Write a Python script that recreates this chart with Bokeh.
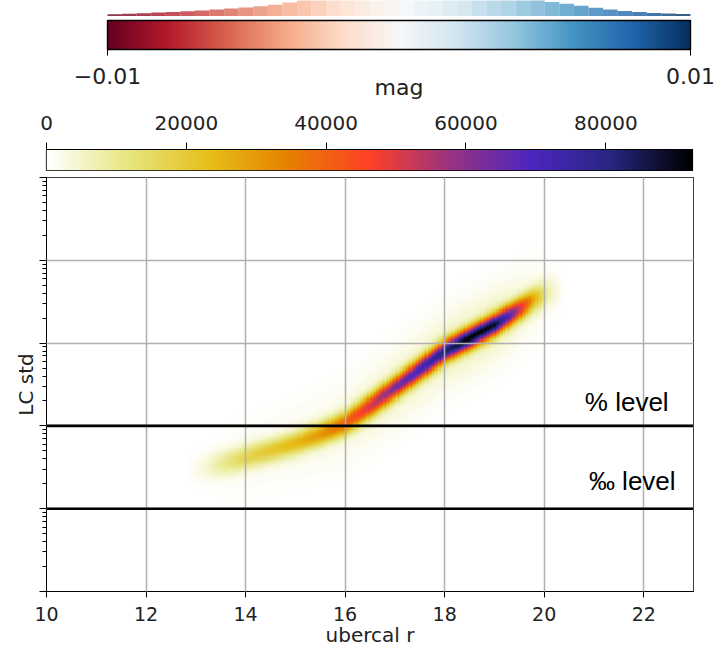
import numpy as np
from bokeh.plotting import figure
from bokeh.layouts import column
from bokeh.core.properties import value
from bokeh.models import (Range1d, LinearColorMapper, FixedTicker, CustomJSTickFormatter,
                          Span, Label, LogTicker)
from bokeh.embed import file_html
from bokeh.resources import INLINE

# ---------------- data ----------------
# residual histogram above the top colour bar (bins of 0.0005 mag from -0.01 to 0.01)
resid_lo = -0.01
resid_hi = 0.01
resid_bin = 0.0005
resid_hist = [2.3, 2.8, 3.3, 3.9, 4.5, 5.2, 6.0, 6.9, 7.9, 9.0,
              10.3, 11.8, 14.0, 16.5, 19.0, 22.0, 25.0, 29.0, 33.0, 36.0,
              38.0, 37.0, 35.0, 32.0, 29.0, 26.0, 23.0, 20.5, 18.5, 16.4,
              14.6, 12.8, 10.8, 8.8, 6.9, 5.5, 4.4, 3.6, 3.0, 2.6]
resid_ticks = [-0.01, 0.01]
resid_labels = ["\u22120.01", "0.01"]

# counts colour bar
count_max = 92400
count_ticks = [0, 20000, 40000, 60000, 80000]

# ridge of the 2-D histogram (magnitude, log10 LC std, peak counts, width in dex)
ridge_mag = [12.8, 13.2, 13.6, 14.0, 14.5, 15.0, 15.5, 16.0, 16.5, 17.0, 17.5,
             18.0, 18.5, 19.0, 19.5, 19.8, 20.1, 20.4]
ridge_log_std = [-2.53, -2.50, -2.45, -2.38, -2.30, -2.21, -2.10, -1.97, -1.76, -1.54,
                 -1.32, -1.10, -0.94, -0.78, -0.59, -0.47, -0.39, -0.35]
ridge_peak = [0, 4000, 11000, 17000, 21000, 25000, 31000, 40000, 52000, 63000, 72000,
              82000, 92400, 90000, 54000, 27000, 7000, 0]
ridge_sigma = [0.12, 0.11, 0.105, 0.10, 0.095, 0.095, 0.095, 0.095, 0.095, 0.092, 0.09,
               0.088, 0.087, 0.087, 0.09, 0.10, 0.12, 0.14]

x_ticks = [10, 12, 14, 16, 18, 20, 22]
level_pct = 0.01
level_permil = 0.001

# ---------------- palettes ----------------
RDBU = ['#67001f', '#b2182b', '#d6604d', '#f4a582', '#fddbc7', '#f7f7f7',
        '#d1e5f0', '#92c5de', '#4393c3', '#2166ac', '#053061']
CMR_R = ['#ffffff', '#e6e680', '#e6bf1a', '#e68000', '#ff4026', '#993380',
         '#4d26bf', '#262680', '#000000']


def ramp(anchors, n=256):
    pos = np.linspace(0, 1, len(anchors))
    rgb = np.array([[int(c[i:i + 2], 16) for i in (1, 3, 5)] for c in anchors], float)
    t = np.linspace(0, 1, n)
    cols = np.stack([np.interp(t, pos, rgb[:, j]) for j in range(3)], axis=1)
    return ['#%02x%02x%02x' % tuple(int(round(v)) for v in row) for row in cols]


rdbu = ramp(RDBU)
cmr = ramp(CMR_R)

FONT = "DejaVu Sans"
TXT = "#222222"
W = 717
BL, BR = 46, 24

# the residual colour bar occupies page pixels 107..690; its figures span the full width
bar_px0, bar_px1 = 107, 690
upp = (resid_hi - resid_lo) / (bar_px1 - bar_px0)
top_xr = (resid_lo - bar_px0 * upp, resid_hi + (W - bar_px1) * upp)

common = dict(output_backend="svg", toolbar_location=None, frame_align=False)

# ---------------- top histogram ----------------
p0 = figure(width=W, height=16, x_range=Range1d(*top_xr), y_range=Range1d(0, 16),
            x_axis_location=None, y_axis_location=None,
            min_border_left=0, min_border_right=0, min_border_top=0, min_border_bottom=0,
            **common)
p0.grid.visible = False
p0.outline_line_color = None
edges = resid_lo + resid_bin * np.arange(len(resid_hist) + 1)
centers = 0.5 * (edges[:-1] + edges[1:])
idx = np.clip(((centers - resid_lo) / (resid_hi - resid_lo) * 255).round().astype(int), 0, 255)
p0.quad(left=edges[:-1], right=edges[1:], bottom=0, top=resid_hist,
        fill_color=[rdbu[i] for i in idx], fill_alpha=0.8, line_color=None)

# ---------------- RdBu colour bar (y in page pixels, 16..100) ----------------
p1 = figure(width=W, height=84, x_range=Range1d(*top_xr), y_range=Range1d(100, 16),
            x_axis_location=None, y_axis_location=None,
            min_border_left=0, min_border_right=0, min_border_top=0, min_border_bottom=0,
            **common)
p1.grid.visible = False
p1.outline_line_color = None
p1.image(image=[np.linspace(resid_lo, resid_hi, 256)[None, :]], x=resid_lo, y=20,
         dw=resid_hi - resid_lo, dh=29,
         color_mapper=LinearColorMapper(palette=rdbu, low=resid_lo, high=resid_hi))
p1.quad(left=resid_lo, right=resid_hi, top=20, bottom=49, fill_color=None,
        line_color="black", line_width=1.4)
p1.segment(x0=resid_ticks, y0=49, x1=resid_ticks, y1=55, line_color="black", line_width=1)
p1.text(x=resid_ticks, y=75.5, text=resid_labels, text_align="center",
        text_baseline="alphabetic", text_font=value(FONT), text_font_size="22px",
        text_color=TXT)
p1.text(x=[0.5 * (resid_lo + resid_hi)], y=86.5, text=["mag"], text_align="center",
        text_baseline="alphabetic", text_font=value(FONT), text_font_size="22px",
        text_color=TXT)

# ---------------- counts colour bar ----------------
p2 = figure(width=W, height=72, x_range=Range1d(0, count_max), y_range=Range1d(0, 1),
            x_axis_location="above", y_axis_location=None,
            min_border_left=BL, min_border_right=BR + 1, min_border_top=49, min_border_bottom=2,
            **common)
p2.grid.visible = False
p2.image(image=[np.linspace(0, count_max, 256)[None, :]], x=0, y=0, dw=count_max, dh=1,
         color_mapper=LinearColorMapper(palette=cmr, low=0, high=count_max))
p2.outline_line_color = "black"
p2.outline_line_width = 1.2
ax = p2.xaxis[0]
ax.ticker = FixedTicker(ticks=count_ticks)
ax.major_tick_out = 7
ax.major_tick_in = 0
ax.minor_tick_out = 0
ax.axis_line_color = "black"
ax.major_label_text_font = FONT
ax.major_label_text_font_size = "20px"
ax.major_label_text_color = TXT
ax.major_label_standoff = 13

# ---------------- main 2-D histogram ----------------
p3 = figure(width=W, height=480, x_range=Range1d(10, 23), y_range=Range1d(1e-4, 10),
            y_axis_type="log",
            min_border_left=BL, min_border_right=BR, min_border_top=5, min_border_bottom=61,
            **common)

nx, ny = 200, 200
y_lo, y_hi = -4.0, 1.0
xc = 10 + (np.arange(nx) + 0.5) * 13.0 / nx
lyc = y_lo + (np.arange(ny) + 0.5) * (y_hi - y_lo) / ny
cen = np.interp(xc, ridge_mag, ridge_log_std)
peak = np.interp(xc, ridge_mag, ridge_peak, left=0, right=0)
sig = np.interp(xc, ridge_mag, ridge_sigma)
d = (lyc[:, None] - cen[None, :]) / sig[None, :]
H = peak[None, :] * (0.93 * np.exp(-0.5 * d ** 2) + 0.07 * np.exp(-0.5 * (d / 3.5) ** 2))

p3.image(image=[H], x=10, y=10 ** y_lo, dw=13, dh=10 ** y_hi - 10 ** y_lo,
         color_mapper=LinearColorMapper(palette=cmr, low=0, high=count_max))

ylog_ticker = LogTicker(num_minor_ticks=10)
p3.xgrid[0].ticker = FixedTicker(ticks=x_ticks)
p3.ygrid[0].ticker = ylog_ticker
for g in (p3.xgrid[0], p3.ygrid[0]):
    g.grid_line_color = "#b0b0b0"
    g.grid_line_width = 1.5
    g.level = "guide"

p3.outline_line_color = "black"
p3.outline_line_width = 1

xa = p3.xaxis[0]
xa.ticker = FixedTicker(ticks=x_ticks)
xa.major_tick_out = 6
xa.major_tick_in = 0
xa.minor_tick_out = 0
xa.axis_line_color = "black"
xa.major_label_text_font = FONT
xa.major_label_text_font_size = "19px"
xa.major_label_text_color = TXT
xa.major_label_standoff = 9
xa.axis_label = "ubercal r"
xa.axis_label_text_font = FONT
xa.axis_label_text_font_size = "20px"
xa.axis_label_text_font_style = "normal"
xa.axis_label_text_color = TXT
xa.axis_label_standoff = -1

ya = p3.yaxis[0]
ya.ticker = ylog_ticker
ya.formatter = CustomJSTickFormatter(code="return '';")
ya.major_tick_out = 7
ya.major_tick_in = 0
ya.minor_tick_out = 4
ya.minor_tick_in = 0
ya.axis_line_color = "black"
ya.major_label_text_font_size = "10px"
ya.major_label_standoff = 0
ya.axis_label = "LC std"
ya.axis_label_text_font = FONT
ya.axis_label_text_font_size = "20px"
ya.axis_label_text_font_style = "normal"
ya.axis_label_text_color = TXT
ya.axis_label_standoff = 2

for lvl in (level_pct, level_permil):
    p3.add_layout(Span(location=lvl, dimension="width", line_color="black", line_width=2.6))

p3.add_layout(Label(x=22.5, y=level_pct * 1.97, text="% level", text_align="right",
                    text_baseline="alphabetic", text_font="Liberation Sans",
                    text_font_size="26px", text_color="black"))
p3.add_layout(Label(x=22.64, y=level_permil * 2.18, text="\u2030 level", text_align="right",
                    text_baseline="alphabetic", text_font="Liberation Sans",
                    text_font_size="26px", text_color="black"))

layout = column(p0, p1, p2, p3, spacing=0)
open("out.html", "w").write(file_html(layout, INLINE))
